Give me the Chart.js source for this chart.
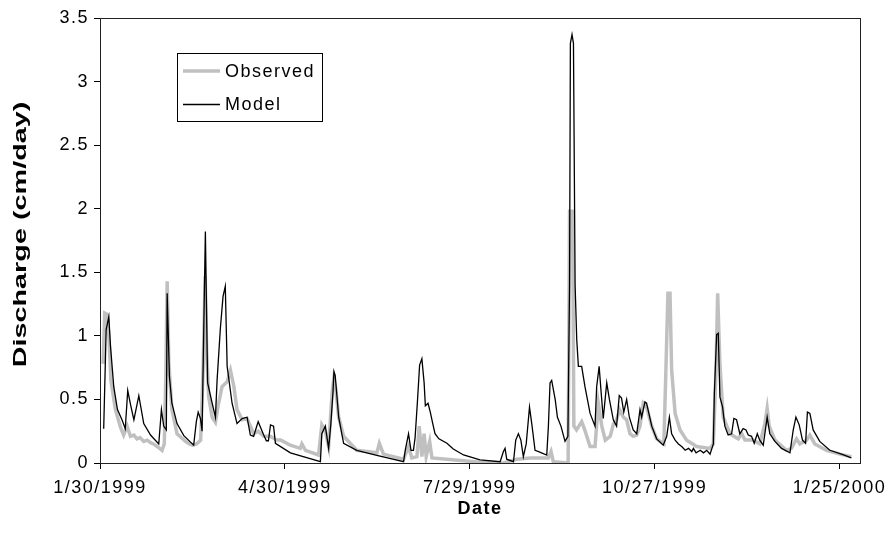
<!DOCTYPE html>
<html lang="en">
<head>
    <meta charset="UTF-8">
    <title>Discharge: Observed vs Model</title>
    <script src="https://cdn.jsdelivr.net/npm/chart.js"></script>
    <style>
        body { margin: 0; background: #fff; }
        canvas { display: block; }
    </style>
</head>
<body>
    <canvas id="qChart" width="893" height="537"></canvas>

    <script>
        // days counted from 1/30/1999
        var tickDays = [0, 90, 180, 270, 360];
        var tickLabels = ["1/30/1999", "4/30/1999", "7/29/1999", "10/27/1999", "1/25/2000"];
        var yTickLabels = ["0", "0.5", "1", "1.5", "2", "2.5", "3", "3.5"];

        // Observed discharge (cm/day)
        var obsDay = [1.5, 2.3, 3.5, 4.5, 5.3, 7.5, 10, 11.5, 13.2, 14.8, 16.5, 18, 19.5, 21.3, 23, 24.6, 26, 27.8, 30.2, 31.3,
            32.1, 32.7, 33.5, 35, 37.5, 39.5, 41.6, 43.5, 45, 47, 49, 50.2, 51.2, 51.9, 52.9, 54.6, 56.2, 57.5, 59.4, 61.9,
            63.5, 65.2, 66.7, 69.2, 71.6, 74.8, 77, 79.7, 83, 86, 88, 92.7, 97.5, 98.3, 100, 106.4, 108, 109.7, 111.3, 113,
            113.8, 114.7, 116.2, 118.6, 125, 134.8, 136, 138, 147.8, 150.2, 151.8, 154.3, 155.4, 156.7, 157.8, 158.8, 160.5, 161.6, 168.9, 185,
            196.4, 203, 209.5, 218.3, 219.6, 220.7, 227.9, 228.6, 230.1, 230.7, 232, 234.5, 236, 238.6, 241, 242.6, 244.3, 246, 248.4, 250,
            251.5, 253, 254.8, 256.4, 258, 259.6, 261.3, 262.9, 264.5, 266.1, 268.6, 271, 274.5, 275.5, 276.5, 277.5, 278.3, 280, 282.4, 285.6,
            290.5, 297, 298.6, 299.9, 300.7, 301.8, 303.4, 306.7, 310.7, 312.4, 314, 318, 321.2, 323.7, 324.8, 325.8, 328.6, 334.2, 336.6, 339.1,
            340.7, 344, 345.6, 348, 353.7, 360.2, 365.8];
        var obsQ = [0.78, 1.18, 1.17, 0.95, 0.65, 0.42, 0.28, 0.22, 0.29, 0.21, 0.22, 0.19, 0.2, 0.17, 0.18, 0.16, 0.15, 0.13, 0.10, 0.15,
            0.73, 1.43, 0.79, 0.42, 0.23, 0.2, 0.17, 0.15, 0.14, 0.15, 0.18, 0.73, 1.47, 0.9, 0.52, 0.36, 0.32, 0.45, 0.60, 0.64,
            0.73, 0.60, 0.42, 0.34, 0.35, 0.23, 0.25, 0.21, 0.21, 0.18, 0.18, 0.14, 0.115, 0.15, 0.10, 0.063, 0.30, 0.25, 0.13, 0.55,
            0.66, 0.6, 0.36, 0.21, 0.10, 0.08, 0.155, 0.07, 0.03, 0.13, 0.04, 0.05, 0.29, 0.05, 0.23, 0.05, 0.17, 0.04, 0.03, 0.005,
            0, 0.03, 0.04, 0.04, 0.09, 0.01, 0, 1.98, 1.98, 0.29, 0.26, 0.325, 0.26, 0.13, 0.13, 0.47, 0.29, 0.18, 0.21, 0.31,
            0.34, 0.42, 0.36, 0.34, 0.23, 0.21, 0.22, 0.29, 0.47, 0.44, 0.29, 0.19, 0.15, 0.73, 1.335, 1.335, 0.73, 0.39, 0.26, 0.18,
            0.13, 0.115, 0.15, 0.73, 1.335, 0.78, 0.36, 0.23, 0.19, 0.23, 0.18, 0.18, 0.15, 0.31, 0.43, 0.29, 0.18, 0.10, 0.115, 0.19,
            0.15, 0.18, 0.22, 0.15, 0.10, 0.07, 0.05];

        // Model discharge (cm/day)
        var modDay = [1.8, 3, 4.3, 5.1, 6.7, 8.5, 10.7, 12.3, 13.5, 15, 16.5, 18.9, 21.3, 24.6, 28.6, 29.9, 31, 32.3, 32.7, 33.8,
            35, 37.5, 40.8, 45.6, 46.9, 47.8, 48.9, 49.7, 51.3, 52.4, 54.6, 56.2, 57, 58.6, 59.9, 61, 61.9, 64.3, 66.7, 69.2,
            71.6, 73.2, 74.8, 77, 79.7, 81, 82, 83, 84.5, 85.4, 92.7, 107.3, 108, 109.7, 111.3, 112.4, 113.4, 113.9, 114.5, 116.2,
            118.6, 125, 134.8, 147.8, 148.6, 150.2, 151.4, 152.6, 153.4, 154.6, 155.6, 156.7, 157.8, 158.4, 159.7, 160.8, 162, 163.1, 165, 168.9,
            172, 177, 185, 194.8, 196.4, 197.2, 198, 201.3, 202.4, 203.7, 204.9, 206.1, 207.5, 209.1, 210.2, 211.8, 213.5, 217.5, 218.3, 219.1,
            219.9, 221.6, 222.7, 224.4, 226.4, 227.8, 228.6, 229, 229.8, 230.5, 231.3, 232.1, 232.9, 234.5, 236.1, 238.6, 241, 241.8, 243, 244,
            245, 246.7, 248, 249.9, 251.5, 252.8, 253.9, 255, 256.4, 257.7, 259.6, 261.3, 262.9, 263.7, 265.3, 266.1, 268.6, 271, 274.2, 275.9,
            277.2, 278.3, 280, 281.6, 283.2, 284.9, 286.5, 288.1, 288.9, 290.2, 292.2, 293.8, 295.4, 297, 298.6, 299.1, 300.2, 301, 301.8, 303.1,
            304.2, 305.8, 307.5, 308.6, 309.9, 311.5, 313.1, 314.5, 315.6, 317.2, 318.5, 320, 321.2, 322.9, 324.8, 326.1, 328.6, 331.8, 335.9, 337.5,
            338.8, 340.4, 342, 343.5, 344.4, 345.6, 347.2, 350.4, 355.3, 361, 365.8];
        var modQ = [0.27, 1.05, 1.15, 0.92, 0.6, 0.42, 0.34, 0.27, 0.57, 0.45, 0.34, 0.53, 0.31, 0.22, 0.15, 0.42, 0.29, 0.26, 1.335, 0.68,
            0.47, 0.31, 0.215, 0.14, 0.325, 0.40, 0.35, 0.25, 1.82, 0.63, 0.47, 0.36, 0.65, 1.06, 1.31, 1.39, 0.76, 0.47, 0.31, 0.35,
            0.36, 0.22, 0.21, 0.325, 0.22, 0.175, 0.175, 0.30, 0.29, 0.155, 0.08, 0.01, 0.23, 0.29, 0.115, 0.31, 0.55, 0.72, 0.69, 0.36,
            0.155, 0.10, 0.06, 0.01, 0.10, 0.23, 0.10, 0.10, 0.20, 0.50, 0.77, 0.82, 0.63, 0.45, 0.47, 0.40, 0.31, 0.23, 0.19, 0.155,
            0.11, 0.063, 0.024, 0.01, 0.09, 0.115, 0.03, 0.01, 0.18, 0.23, 0.18, 0.05, 0.15, 0.44, 0.31, 0.10, 0.09, 0.063, 0.29, 0.63,
            0.65, 0.50, 0.36, 0.29, 0.17, 0.21, 1.4, 3.3, 3.37, 3.3, 1.4, 0.97, 0.76, 0.76, 0.60, 0.39, 0.29, 0.60, 0.76, 0.55,
            0.35, 0.63, 0.50, 0.34, 0.29, 0.53, 0.51, 0.40, 0.50, 0.36, 0.26, 0.23, 0.42, 0.36, 0.48, 0.47, 0.29, 0.19, 0.14, 0.21,
            0.36, 0.23, 0.18, 0.15, 0.13, 0.10, 0.115, 0.09, 0.115, 0.08, 0.10, 0.08, 0.10, 0.07, 0.15, 0.55, 1.01, 1.02, 0.52, 0.44,
            0.29, 0.22, 0.23, 0.35, 0.34, 0.23, 0.27, 0.26, 0.22, 0.21, 0.155, 0.23, 0.18, 0.14, 0.36, 0.23, 0.17, 0.115, 0.08, 0.26,
            0.36, 0.30, 0.18, 0.155, 0.40, 0.39, 0.26, 0.17, 0.10, 0.07, 0.04];

        var FONT = "'Liberation Sans', Arial, Helvetica, sans-serif";
        var SPACING = '1.5px';   // the original text is drawn a bit wide

        function toPoints(days, vals) {
            return days.map(function (d, i) { return { x: d, y: vals[i] }; });
        }

        var wideText = {
            id: 'wideText',
            beforeUpdate: function (chart) { chart.ctx.letterSpacing = SPACING; },
            beforeDraw: function (chart) { chart.ctx.letterSpacing = SPACING; }
        };

        // box round the plot area, the y title and the boxed legend
        var extras = {
            id: 'extras',
            afterDraw: function (chart) {
                var a = chart.chartArea, ctx = chart.ctx;
                ctx.save();
                ctx.strokeStyle = '#222';
                ctx.lineWidth = 1;
                ctx.strokeRect(Math.round(a.left) + 0.5, Math.round(a.top) + 0.5,
                    Math.round(a.right - a.left), Math.round(a.bottom - a.top));

                // y axis title, long and narrow as in the original
                ctx.letterSpacing = '0px';
                ctx.fillStyle = '#000';
                ctx.font = 'bold 18px ' + FONT;
                ctx.textAlign = 'center';
                ctx.textBaseline = 'middle';
                ctx.save();
                ctx.translate(21, (a.top + a.bottom) / 2 - 6);
                ctx.rotate(-Math.PI / 2);
                ctx.scale(1.6, 1);
                ctx.fillText('Discharge (cm/day)', 0, 0);
                ctx.restore();

                // legend
                var x = 177.5, y = 53.5, w = 145, h = 68;
                ctx.fillStyle = '#fff';
                ctx.fillRect(x, y, w, h);
                ctx.strokeStyle = '#000';
                ctx.strokeRect(x, y, w, h);
                ctx.letterSpacing = SPACING;
                ctx.textAlign = 'left';
                chart.data.datasets.forEach(function (ds, i) {
                    var ly = i === 0 ? 71 : 104.5;
                    ctx.strokeStyle = ds.borderColor;
                    ctx.lineWidth = ds.borderWidth;
                    ctx.beginPath();
                    ctx.moveTo(183, ly);
                    ctx.lineTo(220, ly);
                    ctx.stroke();
                    ctx.fillStyle = '#000';
                    ctx.font = '18px ' + FONT;
                    ctx.fillText(ds.label, 225, ly + 1);
                });
                ctx.restore();
            }
        };

        var ctx = document.getElementById('qChart').getContext('2d');
        var qChart = new Chart(ctx, {
            type: 'line',
            data: {
                datasets: [
                    {
                        label: 'Observed',
                        data: toPoints(obsDay, obsQ),
                        borderColor: '#c0c0c0',
                        borderWidth: 3.5,
                        pointRadius: 0,
                        tension: 0,
                        order: 2
                    },
                    {
                        label: 'Model',
                        data: toPoints(modDay, modQ),
                        borderColor: '#000000',
                        borderWidth: 1.3,
                        pointRadius: 0,
                        tension: 0,
                        order: 1
                    }
                ]
            },
            options: {
                responsive: false,
                animation: false,
                devicePixelRatio: 1,
                layout: { padding: { left: 0, right: 33, top: 18, bottom: 0 } },
                plugins: {
                    legend: { display: false },
                    tooltip: { enabled: false }
                },
                scales: {
                    x: {
                        type: 'linear',
                        min: 0,
                        max: 370,
                        afterBuildTicks: function (s) {
                            s.ticks = tickDays.map(function (d) { return { value: d }; });
                        },
                        afterFit: function (s) {
                            s.height = 74;
                            s.paddingLeft = 0;
                            s.paddingRight = 0;
                        },
                        grid: { drawOnChartArea: false, drawTicks: true, tickLength: 6, color: '#000' },
                        border: { color: '#222', width: 1 },
                        ticks: {
                            color: '#000',
                            padding: 8,
                            maxRotation: 0,
                            autoSkip: false,
                            font: { family: FONT, size: 18 },
                            callback: function (v) { return tickLabels[tickDays.indexOf(v)]; }
                        },
                        title: {
                            display: true,
                            text: 'Date',
                            color: '#000',
                            font: { family: FONT, size: 18, weight: 'bold' },
                            padding: { top: 0, bottom: 17 }
                        }
                    },
                    y: {
                        min: 0,
                        max: 3.5,
                        afterFit: function (s) {
                            s.width = 100;
                            s.paddingTop = 0;
                            s.paddingBottom = 0;
                        },
                        grid: { drawOnChartArea: false, drawTicks: true, tickLength: 6, color: '#000' },
                        border: { color: '#222', width: 1 },
                        ticks: {
                            stepSize: 0.5,
                            color: '#000',
                            padding: 5,
                            font: { family: FONT, size: 18 },
                            callback: function (v) { return yTickLabels[Math.round(v * 2)]; }
                        },
                        title: { display: false }
                    }
                }
            },
            plugins: [wideText, extras]
        });
    </script>
</body>
</html>
